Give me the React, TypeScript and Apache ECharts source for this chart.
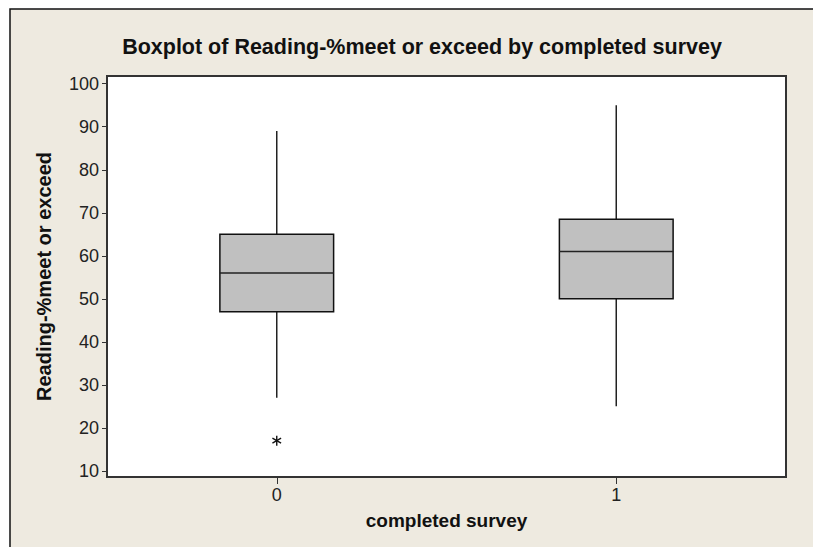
import React, { useEffect, useRef } from "react";
import * as echarts from "echarts";

const categories = ["0", "1"];
const whiskerLow = [27, 25];
const q1 = [47, 50];
const median = [56, 61];
const q3 = [65, 68.5];
const whiskerHigh = [89, 95];
const outliers: [number, number][] = [[0, 17]];
const yTicks = [10, 20, 30, 40, 50, 60, 70, 80, 90, 100];

const FONT = "Liberation Sans";

export default function App() {
  const ref = useRef<HTMLDivElement>(null);
  useEffect(() => {
    if (!ref.current) return;
    const chart = echarts.init(ref.current, null, { renderer: "svg" });
    const boxData = categories.map((_, i) => [i, whiskerLow[i], q1[i], median[i], q3[i], whiskerHigh[i]]);
    chart.setOption({
      animation: false,
      backgroundColor: "#ffffff",
      graphic: [
        {
          type: "rect",
          z: -100,
          shape: { x: 10, y: 9, width: 900, height: 700 },
          style: { fill: "#EEEAE0", stroke: "#111", lineWidth: 1.5 },
          silent: true,
        },
        {
          type: "text",
          x: 422,
          y: 47,
          style: {
            text: "Boxplot of Reading-%meet or exceed by completed survey",
            font: `bold 21.5px '${FONT}'`,
            fill: "#111",
            textAlign: "center",
            textVerticalAlign: "middle",
          },
        },
      ],
      grid: {
        left: 107,
        top: 76,
        right: 27,
        bottom: 70,
        show: true,
        backgroundColor: "#ffffff",
        borderColor: "#333",
        borderWidth: 2,
        z: 1,
      },
      xAxis: {
        type: "category",
        data: categories,
        boundaryGap: true,
        name: "completed survey",
        nameLocation: "middle",
        nameGap: 34,
        nameTextStyle: { fontFamily: FONT, fontWeight: "bold", fontSize: 19, color: "#111" },
        axisLine: { show: true, lineStyle: { color: "#333", width: 2 } },
        axisTick: { show: true, alignWithLabel: true, length: 7, lineStyle: { color: "#333" } },
        axisLabel: { fontFamily: FONT, fontSize: 18, color: "#222", margin: 9 },
        splitLine: { show: false },
      },
      yAxis: {
        type: "value",
        min: 8.56,
        max: 101.8,
        name: "Reading-%meet or exceed",
        nameLocation: "middle",
        nameGap: 53,
        nameRotate: 90,
        nameTextStyle: { fontFamily: FONT, fontWeight: "bold", fontSize: 20, color: "#111" },
        axisLine: { show: true, lineStyle: { color: "#333", width: 2 } },
        axisTick: { show: true, length: 5, customValues: yTicks, lineStyle: { color: "#333" } },
        axisLabel: { fontFamily: FONT, fontSize: 18, color: "#222", margin: 8, customValues: yTicks },
        splitLine: { show: false },
      },
      series: [
        {
          type: "custom",
          z: 5,
          data: boxData,
          encode: { x: 0, y: [1, 2, 3, 4, 5] },
          renderItem: (params: any, api: any) => {
            const x = api.value(0);
            const low = api.coord([x, api.value(1)]);
            const pq1 = api.coord([x, api.value(2)]);
            const pmed = api.coord([x, api.value(3)]);
            const pq3 = api.coord([x, api.value(4)]);
            const high = api.coord([x, api.value(5)]);
            const bw = api.size([1, 0])[0] * 0.335;
            const cx = low[0];
            const lineStyle = { stroke: "#222", lineWidth: 1.5 };
            return {
              type: "group",
              children: [
                { type: "line", shape: { x1: cx, y1: high[1], x2: cx, y2: pq3[1] }, style: lineStyle },
                { type: "line", shape: { x1: cx, y1: pq1[1], x2: cx, y2: low[1] }, style: lineStyle },
                {
                  type: "rect",
                  shape: { x: cx - bw / 2, y: pq3[1], width: bw, height: pq1[1] - pq3[1] },
                  style: { fill: "#C0C0C0", stroke: "#111", lineWidth: 1.5 },
                },
                { type: "line", shape: { x1: cx - bw / 2, y1: pmed[1], x2: cx + bw / 2, y2: pmed[1] }, style: { stroke: "#222", lineWidth: 1.5 } },
              ],
            };
          },
        },
        {
          type: "custom",
          z: 6,
          data: outliers,
          encode: { x: 0, y: 1 },
          renderItem: (params: any, api: any) => {
            const p = api.coord([api.value(0), api.value(1)]);
            const r = 5;
            const s = { stroke: "#111", lineWidth: 1.4 };
            const children: any[] = [];
            for (let k = 0; k < 3; k++) {
              const a = Math.PI / 2 + (k * Math.PI) / 3;
              children.push({
                type: "line",
                shape: { x1: p[0] - r * Math.cos(a), y1: p[1] - r * Math.sin(a), x2: p[0] + r * Math.cos(a), y2: p[1] + r * Math.sin(a) },
                style: s,
              });
            }
            return { type: "group", children };
          },
        },
      ],
    });
    return () => chart.dispose();
  }, []);
  return (
    <div
      ref={ref}
      style={{ position: "fixed", left: 0, top: 0, width: 813, height: 547 }}
    />
  );
}
